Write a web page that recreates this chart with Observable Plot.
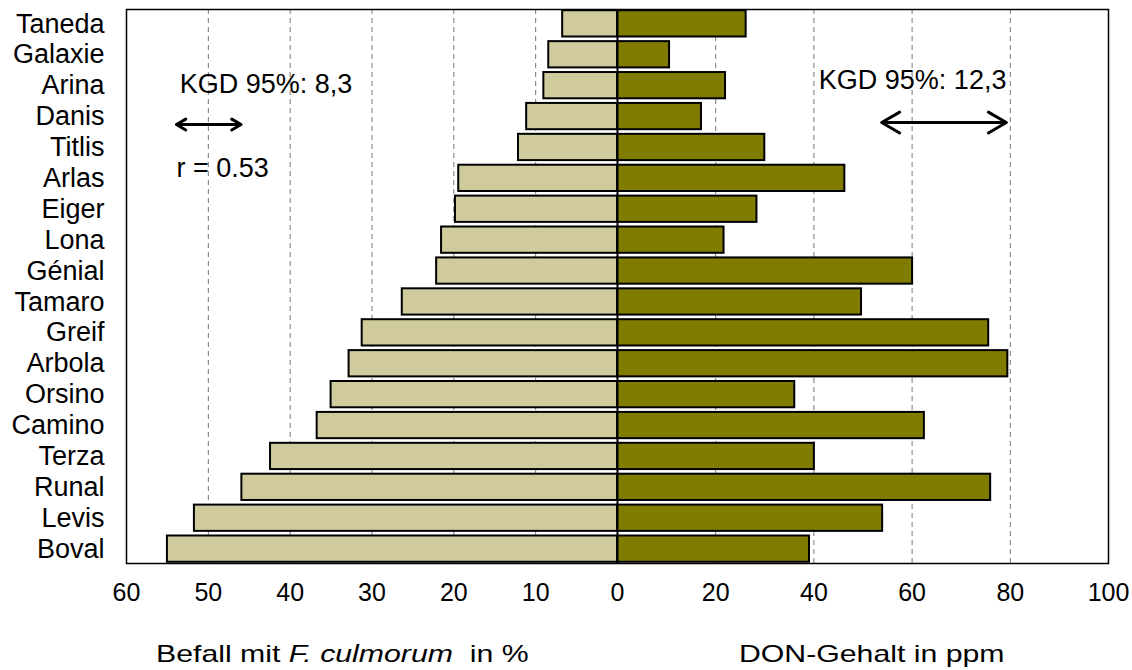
<!DOCTYPE html>
<html>
<head>
<meta charset="utf-8">
<script src="https://cdn.jsdelivr.net/npm/d3@7"></script>
<script src="https://cdn.jsdelivr.net/npm/@observablehq/plot@0.6"></script>
<style>
  body { margin: 0; background: #fff; font-family: "Liberation Sans", Arial, sans-serif; }
  #wrap { position: relative; width: 1132px; height: 670px; }
  .cap { position: absolute; top: 640px; font-size: 24px; color: #000; white-space: pre; transform: scaleX(1.26); transform-origin: left center; }
</style>
</head>
<body>
<div id="wrap">
  <div id="chart"></div>
  <div class="cap" style="left:156px">Befall mit <i>F. culmorum</i>  in %</div>
  <div class="cap" style="left:739px">DON-Gehalt in ppm</div>
</div>
<script>
// Varieties, top to bottom
const varieties = ["Taneda","Galaxie","Arina","Danis","Titlis","Arlas","Eiger","Lona","Génial","Tamaro","Greif","Arbola","Orsino","Camino","Terza","Runal","Levis","Boval"];
// Befall mit F. culmorum in % (left side)
const befall = [6.7, 8.4, 9.0, 11.1, 12.1, 19.4, 19.8, 21.5, 22.1, 26.3, 31.2, 32.8, 35.0, 36.7, 42.4, 45.9, 51.7, 55.0];
// DON-Gehalt in ppm (right side)
const don = [26.2, 10.6, 22.0, 17.1, 30.0, 46.3, 28.4, 21.7, 60.1, 49.7, 75.6, 79.5, 36.1, 62.5, 40.1, 76.0, 54.0, 39.1];
// Tick labels
const leftTicks = [60, 50, 40, 30, 20, 10, 0];
const rightTicks = [20, 40, 60, 80, 100];
const leftGrid = [50, 40, 30, 20, 10];
const rightGrid = [20, 40, 60, 80];
// Annotations (KGD = kleinste gesicherte Differenz)
const kgdLeft = {label: "KGD 95%: 8,3", textAt: 53.5, from: 53.9, to: 46.0};
const kgdRight = {label: "KGD 95%: 12,3", textAt: 41.0, from: 53.8, to: 79.2};
const corr = "r = 0.53";

// Left half: 0..60 %, right half: 0..100 ppm, shared position axis
const L = v => -v * 100 / 60;
const R = v => v;

const rows = varieties.map((v, i) => ({variety: v, befall: befall[i], don: don[i]}));
const tickPos = [...leftTicks.map(L), ...rightTicks.map(R)];
const tickLab = [...leftTicks, ...rightTicks];
const fmt = p => { const i = tickPos.indexOf(p); return i < 0 ? "" : String(tickLab[i]); };

const arrowHalves = a => [
  {x1: (a.from + a.to) / 2, x2: a.from},
  {x1: (a.from + a.to) / 2, x2: a.to}
];

const font = '"Liberation Sans", Arial, sans-serif';

const chart = Plot.plot({
  width: 1132,
  height: 615,
  marginLeft: 126,
  marginRight: 24,
  marginTop: 9,
  marginBottom: 52,
  style: {fontFamily: font, fontSize: "26px", color: "#000", background: "#fff"},
  x: {domain: [-100, 100], axis: null},
  y: {domain: varieties, paddingInner: 0.15, paddingOuter: 0.04, round: false, axis: null},
  marks: [
    Plot.ruleX([...leftGrid.map(L), ...rightGrid.map(R)], {stroke: "#777", strokeWidth: 1, strokeDasharray: "5,4"}),
    Plot.barX(rows, {x1: 0, x2: d => L(d.befall), y: "variety", fill: "#cfcb9c", stroke: "#000", strokeWidth: 2}),
    Plot.barX(rows, {x1: 0, x2: d => R(d.don), y: "variety", fill: "#807c00", stroke: "#000", strokeWidth: 2}),
    Plot.ruleX([0], {stroke: "#000", strokeWidth: 2}),
    Plot.frame({stroke: "#000", strokeWidth: 1.5}),
    Plot.axisY({tickSize: 0, tickPadding: 22, fontSize: 27, label: null}),
    Plot.axisX({ticks: tickPos, tickFormat: fmt, tickSize: 0, tickPadding: 20, fontSize: 25, label: null}),
    Plot.text([kgdLeft], {x: d => L(d.textAt), y: () => "Arina", text: "label", textAnchor: "start", dy: -1, fontSize: 27}),
    Plot.arrow(arrowHalves(kgdLeft), {x1: d => L(d.x1), x2: d => L(d.x2), y1: () => "Danis", y2: () => "Danis", dy: 8, stroke: "#000", strokeWidth: 3, headLength: 11, headAngle: 60}),
    Plot.text([corr], {x: L(kgdLeft.from), y: () => "Arlas", text: d => d, textAnchor: "start", dy: -10, fontSize: 27}),
    Plot.text([kgdRight], {x: d => R(d.textAt), y: () => "Arina", text: "label", textAnchor: "start", dy: -5, fontSize: 27}),
    Plot.arrow(arrowHalves(kgdRight), {x1: d => R(d.x1), x2: d => R(d.x2), y1: () => "Danis", y2: () => "Danis", dy: 6, stroke: "#000", strokeWidth: 3, headLength: 11, headAngle: 60})
  ]
});
document.getElementById("chart").appendChild(chart);
</script>
</body>
</html>
